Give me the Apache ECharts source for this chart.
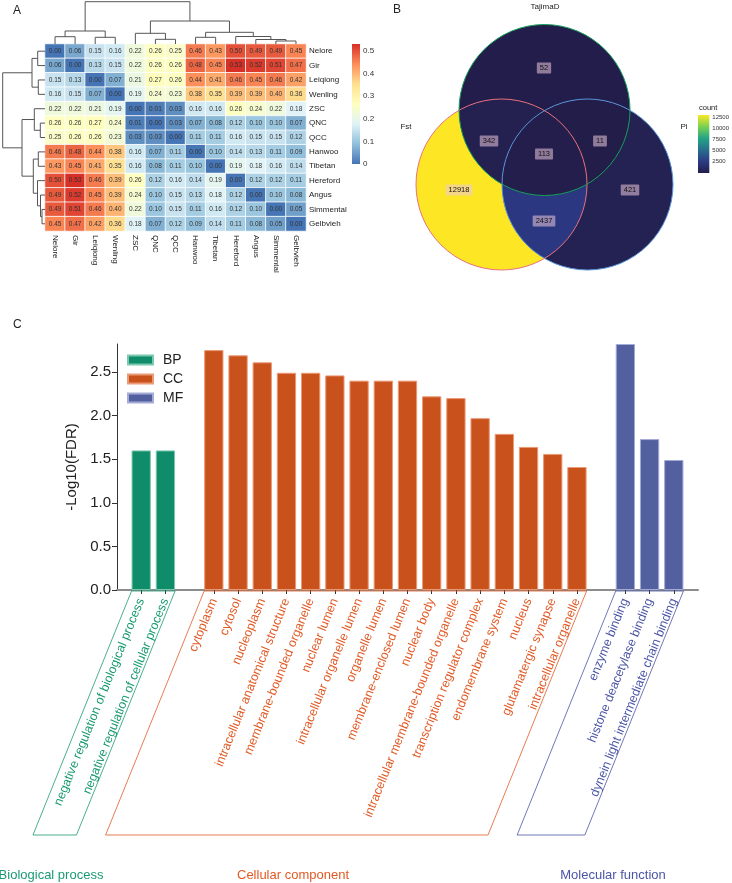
<!DOCTYPE html>
<html><head><meta charset="utf-8">
<script src="https://cdn.jsdelivr.net/npm/echarts@6/dist/echarts.min.js"></script>
<style>html,body{margin:0;padding:0;background:#fff}#c{width:732px;height:883px}</style>
</head><body><div id="c"></div>
<script>
// ================= Panel A : pairwise Fst heatmap =================
const breeds = ['Nelore','Gir','Leiqiong','Wenling','ZSC','QNC','QCC','Hanwoo','Tibetan','Hereford','Angus','Simmental','Gelbvieh'];
const fstNelore    = [0.00,0.06,0.15,0.16,0.22,0.26,0.25,0.46,0.43,0.50,0.49,0.49,0.45];
const fstGir       = [0.06,0.00,0.13,0.15,0.22,0.26,0.26,0.48,0.45,0.53,0.52,0.51,0.47];
const fstLeiqiong  = [0.15,0.13,0.00,0.07,0.21,0.27,0.26,0.44,0.41,0.46,0.45,0.46,0.42];
const fstWenling   = [0.16,0.15,0.07,0.00,0.19,0.24,0.23,0.38,0.35,0.39,0.39,0.40,0.36];
const fstZSC       = [0.22,0.22,0.21,0.19,0.00,0.01,0.03,0.16,0.16,0.26,0.24,0.22,0.18];
const fstQNC       = [0.26,0.26,0.27,0.24,0.01,0.00,0.03,0.07,0.08,0.12,0.10,0.10,0.07];
const fstQCC       = [0.25,0.26,0.26,0.23,0.03,0.03,0.00,0.11,0.11,0.16,0.15,0.15,0.12];
const fstHanwoo    = [0.46,0.48,0.44,0.38,0.16,0.07,0.11,0.00,0.10,0.14,0.13,0.11,0.09];
const fstTibetan   = [0.43,0.45,0.41,0.35,0.16,0.08,0.11,0.10,0.00,0.19,0.18,0.16,0.14];
const fstHereford  = [0.50,0.53,0.46,0.39,0.26,0.12,0.16,0.14,0.19,0.00,0.12,0.12,0.11];
const fstAngus     = [0.49,0.52,0.45,0.39,0.24,0.10,0.15,0.13,0.18,0.12,0.00,0.10,0.08];
const fstSimmental = [0.49,0.51,0.46,0.40,0.22,0.10,0.15,0.11,0.16,0.12,0.10,0.00,0.05];
const fstGelbvieh  = [0.45,0.47,0.42,0.36,0.18,0.07,0.12,0.09,0.14,0.11,0.08,0.05,0.00];
const fstRows = [fstNelore,fstGir,fstLeiqiong,fstWenling,fstZSC,fstQNC,fstQCC,fstHanwoo,fstTibetan,fstHereford,fstAngus,fstSimmental,fstGelbvieh];
// hierarchical clustering (linkage): [childA, childB, mergeHeight]; leaves 0..12, merges numbered from 13
const dendroMerges = [
  [11,12,3.0],[10,13,4.5],[5,6,4.7],[7,8,6.7],[2,3,6.7],[0,1,7.3],
  [9,14,7.5],[4,15,10.7],[16,19,11.7],[18,17,13.0],[20,21,23.0],[22,23,42.3]
];
const heatMax = 0.53;
const heatLegendTicks = [0,0.1,0.2,0.3,0.4,0.5];

// ================= Panel B : Venn =================
const vennSets = ['Fst','TajimaD','Pi'];
const vennRegions = ['Fst','Pi','Fst&Pi','TajimaD','Fst&TajimaD','TajimaD&Pi','Fst&TajimaD&Pi'];
const vennCounts  = [12918, 421, 2437, 52, 342, 11, 113];
const vennLegendTicks = [2500,5000,7500,10000,12500];

// ================= Panel C : GO enrichment =================
const bpTerms = ['negative regulation of biological process','negative regulation of cellular process'];
const bpValues = [1.60, 1.60];
const ccTerms = ['cytoplasm','cytosol','nucleoplasm','intracellular anatomical structure','membrane-bounded organelle','nuclear lumen','intracellular organelle lumen','organelle lumen','membrane-enclosed lumen','nuclear body','intracellular membrane-bounded organelle','transcription regulator complex','endomembrane system','nucleus','glutamatergic synapse','intracellular organelle'];
const ccValues = [2.75, 2.69, 2.61, 2.49, 2.49, 2.46, 2.40, 2.40, 2.40, 2.22, 2.20, 1.97, 1.79, 1.64, 1.56, 1.41];
const mfTerms = ['enzyme binding','histone deacetylase binding','dynein light intermediate chain binding'];
const mfValues = [2.82, 1.73, 1.49];
const groupKeys = ['BP','CC','MF'];
const groupNames = ['Biological process','Cellular component','Molecular function'];
const yTicks = [0,0.5,1.0,1.5,2.0,2.5];

// ================= styles / layout =================
const FONT = 'Liberation Sans, Arial, sans-serif';
const heatPalette = ['#4575b4','#91bfdb','#e0f3f8','#ffffbf','#fee090','#fc8d59','#d73027'];
const vennPalette = ['#231d4a','#2c3a84','#2a6f8e','#22a586','#7ad151','#fde725'];
const barFill   = {BP:'#0f8c69', CC:'#c9521c', MF:'#5360a0'};
const barEdge   = {BP:'#7cc8ad', CC:'#eb9a76', MF:'#a3abd6'};
const textColor = {BP:'#1a9a72', CC:'#e15a25', MF:'#4b55a5'};
const groupTextX = [51, 293, 613];
const LABEL_ROT = 68;

// ---- heatmap data ----
const heatData = [];
fstRows.forEach((row, r) => row.forEach((v, c) => heatData.push([c, r, v])));

// ---- dendrogram segments from linkage ----
const nodePos = breeds.map((_, i) => i + 0.5);
const nodeH = breeds.map(() => 0);
const dendroSegs = dendroMerges.map(([a, b, h]) => {
  const seg = [nodePos[a], nodePos[b], nodeH[a], nodeH[b], h];
  nodePos.push((nodePos[a] + nodePos[b]) / 2);
  nodeH.push(h);
  return seg;
});

// ---- GO category axis ----
const pads = [' ', '  ', '   ', '    '];
const categories = [pads[0], ...bpTerms, pads[1], ...ccTerms, pads[2], ...mfTerms, pads[3]];
const catGroup = [null, ...bpTerms.map(() => 'BP'), null, ...ccTerms.map(() => 'CC'), null, ...mfTerms.map(() => 'MF'), null];
function seriesFor(key, vals) {
  let k = 0;
  return catGroup.map(g => g === key ? vals[k++] : '-');
}
const groupRanges = groupKeys.map((key, gi) => {
  const idx = catGroup.map((g, i) => g === key ? i : -1).filter(i => i >= 0);
  return [idx[0], idx[idx.length - 1], gi];
});

// ---- Venn geometry (layout) ----
const R = 85.5;
const circ = { Fst:{cx:501.5, cy:184.5, r:R}, TajimaD:{cx:544.5, cy:110, r:R}, Pi:{cx:587.5, cy:184.5, r:R} };
const setStroke = { Fst:'#e8707c', TajimaD:'#17a05a', Pi:'#5b95d8' };
const setLabelPos = { Fst:[406,127], TajimaD:[545,7], Pi:[684,127] };
const regionLabelPos = { 'Fst':[459,190], 'Pi':[630,190], 'Fst&Pi':[544,221], 'TajimaD':[544,68], 'Fst&TajimaD':[489,141], 'TajimaD&Pi':[600,141], 'Fst&TajimaD&Pi':[544,154] };

function inter(a, b) {
  const dx = b.cx - a.cx, dy = b.cy - a.cy, d = Math.hypot(dx, dy);
  const l = (a.r*a.r - b.r*b.r + d*d) / (2*d), h = Math.sqrt(a.r*a.r - l*l);
  const mx = a.cx + dx*l/d, my = a.cy + dy*l/d;
  return [[mx - dy*h/d, my + dx*h/d], [mx + dy*h/d, my - dx*h/d]];
}
function inside(p, c) { return Math.hypot(p[0]-c.cx, p[1]-c.cy) < c.r - 1e-6; }
function arc(c, p1, p2) {
  const a1 = Math.atan2(p1[1]-c.cy, p1[0]-c.cx), a2 = Math.atan2(p2[1]-c.cy, p2[0]-c.cx);
  let da = a2 - a1;
  while (da > Math.PI) da -= 2*Math.PI;
  while (da < -Math.PI) da += 2*Math.PI;
  const pts = [], n = 60;
  for (let i = 0; i <= n; i++) { const a = a1 + da*i/n; pts.push([c.cx + c.r*Math.cos(a), c.cy + c.r*Math.sin(a)]); }
  return pts;
}
function lens(A, B) { const [i1, i2] = inter(A, B); return arc(A, i1, i2).concat(arc(B, i2, i1)); }
function triple() {
  const F = circ.Fst, T = circ.TajimaD, P = circ.Pi;
  const top = inter(F, P).find(p => inside(p, T));
  const bl = inter(T, P).find(p => inside(p, F));
  const br = inter(T, F).find(p => inside(p, P));
  return arc(P, top, bl).concat(arc(T, bl, br), arc(F, br, top));
}
function regionShape(name) {
  const sets = name.split('&');
  if (sets.length === 1) { const c = circ[sets[0]]; return {type:'circle', shape:{cx:c.cx, cy:c.cy, r:c.r}}; }
  if (sets.length === 2) return {type:'polygon', shape:{points: lens(circ[sets[0]], circ[sets[1]])}};
  return {type:'polygon', shape:{points: triple()}};
}

const chart = echarts.init(document.getElementById('c'));
const gradient = (pal) => new echarts.graphic.LinearGradient(0, 1, 0, 0, pal.map((c, i) => ({offset: i/(pal.length-1), color: c})));

const option = {
  animation: false,
  textStyle: {fontFamily: FONT},
  grid: [
    {left:45, top:44, width:261, height:187},      // 0 heatmap
    {left:45, top:0, width:261, height:44},        // 1 top dendrogram
    {left:0, top:44, width:45, height:187},        // 2 left dendrogram
    {left:352, top:44, width:8, height:120},       // 3 heat legend
    {left:698, top:115, width:12, height:58},      // 4 venn legend
    {left:117, top:344, width:581, height:246}     // 5 GO bars
  ],
  xAxis: [
    {gridIndex:0, type:'category', data:breeds, position:'bottom', axisLine:{show:false}, axisTick:{show:false},
     axisLabel:{rotate:-90, fontSize:8, margin:4, color:'#222', interval:0}},
    {gridIndex:1, type:'value', min:0, max:13, show:false},
    {gridIndex:2, type:'value', min:0, max:45, inverse:true, show:false},
    {gridIndex:3, type:'category', data:['l'], show:false},
    {gridIndex:4, type:'category', data:['l'], show:false},
    {gridIndex:5, type:'category', data:categories, boundaryGap:false,
     axisLine:{lineStyle:{color:'#8c8c8c', width:2}},
     axisTick:{interval:(i) => catGroup[i] !== null, length:4, lineStyle:{color:'#333'}},
     axisLabel:{interval:0, rotate:LABEL_ROT, fontSize:12.5, margin:9,
       color:(v, i) => { const g = catGroup[i]; return g ? textColor[g] : '#fff'; }}}
  ],
  yAxis: [
    {gridIndex:0, type:'category', data:breeds, inverse:true, position:'right', axisLine:{show:false}, axisTick:{show:false},
     axisLabel:{fontSize:8, margin:3, color:'#222', interval:0}},
    {gridIndex:1, type:'value', min:0, max:44, show:false},
    {gridIndex:2, type:'value', min:0, max:13, inverse:true, show:false},
    {gridIndex:3, type:'value', min:0, max:heatMax, position:'right', axisLine:{show:false}, splitLine:{show:false},
     axisTick:{show:true, inside:true, length:2, lineStyle:{color:'#fff'}, customValues:heatLegendTicks},
     axisLabel:{fontSize:8, margin:3, color:'#333', customValues:heatLegendTicks, formatter:(v) => String(v)}},
    {gridIndex:4, type:'value', min:Math.min(...vennCounts), max:Math.max(...vennCounts), position:'right', axisLine:{show:false}, splitLine:{show:false},
     axisTick:{show:true, inside:true, length:3, lineStyle:{color:'#fff'}, customValues:vennLegendTicks},
     axisLabel:{fontSize:6, margin:3, color:'#333', customValues:vennLegendTicks, formatter:(v) => String(Math.round(v))}},
    {gridIndex:5, type:'value', min:0, max:2.82, splitLine:{show:false},
     name:'-Log10(FDR)', nameLocation:'middle', nameGap:31, nameTextStyle:{fontSize:15, color:'#222'},
     axisLine:{show:true, lineStyle:{color:'#333', width:1}},
     axisTick:{show:true, length:5, lineStyle:{color:'#333'}, customValues:yTicks},
     axisLabel:{fontSize:15, color:'#222', margin:6, customValues:yTicks, formatter:(v) => v.toFixed(1)}}
  ],
  visualMap: [
    {type:'continuous', show:false, seriesIndex:0, dimension:2, min:0, max:heatMax, inRange:{color:heatPalette}},
    {type:'continuous', show:false, seriesIndex:4, dimension:0, min:Math.min(...vennCounts), max:Math.max(...vennCounts), inRange:{color:vennPalette}}
  ],
  legend: {
    data: groupKeys, orient:'vertical', left:127, top:353, padding:0, itemWidth:25, itemHeight:9, itemGap:5,
    icon:'rect', textStyle:{fontSize:14, color:'#222', padding:[0,0,0,5]}, selectedMode:false
  },
  graphic: [
    {type:'text', left:13, top:5, style:{text:'A', fontSize:12, fill:'#222', fontFamily:FONT}},
    {type:'text', left:393, top:4, style:{text:'B', fontSize:12, fill:'#222', fontFamily:FONT}},
    {type:'text', left:13, top:319, style:{text:'C', fontSize:12, fill:'#222', fontFamily:FONT}},
    {type:'text', left:699, top:104, style:{text:'count', fontSize:7.5, fill:'#222', fontFamily:FONT}}
  ],
  series: [
    // 0 heatmap
    {type:'heatmap', xAxisIndex:0, yAxisIndex:0, data:heatData,
     itemStyle:{borderColor:'#fff', borderWidth:0.8},
     label:{show:true, fontSize:6.5, color:'#333', formatter:(p) => p.value[2].toFixed(2)},
     emphasis:{disabled:true}},
    // 1 top dendrogram
    {type:'custom', xAxisIndex:1, yAxisIndex:1, data:dendroSegs, silent:true, clip:false,
     renderItem:(p, api) => {
       const xa = api.value(0), xb = api.value(1), ha = api.value(2), hb = api.value(3), h = api.value(4);
       return {type:'polyline', shape:{points:[api.coord([xa, ha]), api.coord([xa, h]), api.coord([xb, h]), api.coord([xb, hb])]},
               style:{stroke:'#555', lineWidth:1, fill:null}};
     }},
    // 2 left dendrogram
    {type:'custom', xAxisIndex:2, yAxisIndex:2, data:dendroSegs, silent:true, clip:false,
     renderItem:(p, api) => {
       const xa = api.value(0), xb = api.value(1), ha = api.value(2), hb = api.value(3), h = api.value(4);
       return {type:'polyline', shape:{points:[api.coord([ha, xa]), api.coord([h, xa]), api.coord([h, xb]), api.coord([hb, xb])]},
               style:{stroke:'#555', lineWidth:1, fill:null}};
     }},
    // 3 heat legend
    {type:'bar', xAxisIndex:3, yAxisIndex:3, data:[heatMax], barWidth:'100%', silent:true,
     itemStyle:{color:gradient(heatPalette)}},
    // 4 venn regions
    {type:'custom', coordinateSystem:'none', data:vennCounts.map(v => [v]), silent:true,
     renderItem:(p, api) => {
       const name = vennRegions[p.dataIndex];
       const shp = regionShape(name);
       shp.style = {fill: api.visual('color'), stroke:null};
       shp.z2 = p.dataIndex + 1;
       const lp = regionLabelPos[name];
       return {type:'group', children:[shp,
         {type:'text', x:lp[0], y:lp[1], z2:100, style:{text:String(api.value(0)), fontSize:7.5, fontFamily:FONT, fill:'#111',
           align:'center', verticalAlign:'middle', backgroundColor:'rgba(236,200,220,0.55)', padding:[2,3,1,3], borderRadius:1}}]};
     }},
    // 5 venn outlines + set names
    {type:'custom', coordinateSystem:'none', data:vennSets.map((s, i) => [i]), silent:true,
     renderItem:(p, api) => {
       const s = vennSets[p.dataIndex], c = circ[s], lp = setLabelPos[s];
       return {type:'group', children:[
         {type:'circle', z2:50, shape:{cx:c.cx, cy:c.cy, r:c.r}, style:{fill:null, stroke:setStroke[s], lineWidth:1}},
         {type:'text', x:lp[0], y:lp[1], z2:60, style:{text:s, fontSize:8, fontFamily:FONT, fill:'#222', align:'center', verticalAlign:'middle'}}
       ]};
     }},
    // 6 venn legend
    {type:'bar', xAxisIndex:4, yAxisIndex:4, data:[Math.max(...vennCounts)], barWidth:'100%', silent:true,
     itemStyle:{color:gradient(vennPalette)}},
    // 7-9 GO bars
    ...groupKeys.map((key, gi) => ({
      type:'bar', name:key, xAxisIndex:5, yAxisIndex:5, barWidth:19.3, barGap:'-100%',
      data: seriesFor(key, [bpValues, ccValues, mfValues][gi]),
      itemStyle:{color:barFill[key], borderColor:barEdge[key], borderWidth:1}, silent:true
    })),
    // 10 group brackets + group names
    {type:'custom', xAxisIndex:5, yAxisIndex:5, data:groupRanges, silent:true, clip:false,
     renderItem:(p, api) => {
       const s = api.value(0), e = api.value(1), g = api.value(2);
       const key = groupKeys[g], col = textColor[key];
       const pS = api.coord([s, 0]), pE = api.coord([e, 0]);
       const half = 9.65, yTop = pS[1] + 1, yBot = 835;
       const dx = (yBot - yTop) / Math.tan(LABEL_ROT * Math.PI / 180);
       const pts = [[pS[0]-half, yTop], [pE[0]+half, yTop], [pE[0]+half-dx, yBot], [pS[0]-half-dx, yBot]];
       return {type:'group', children:[
         {type:'polygon', shape:{points:pts}, style:{fill:null, stroke:col, lineWidth:0.8}},
         {type:'text', x:groupTextX[g], y:875, style:{text:groupNames[g], fontSize:13, fontFamily:FONT, fill:col, align:'center', verticalAlign:'middle'}}
       ]};
     }}
  ]
};
chart.setOption(option);
</script></body></html>
